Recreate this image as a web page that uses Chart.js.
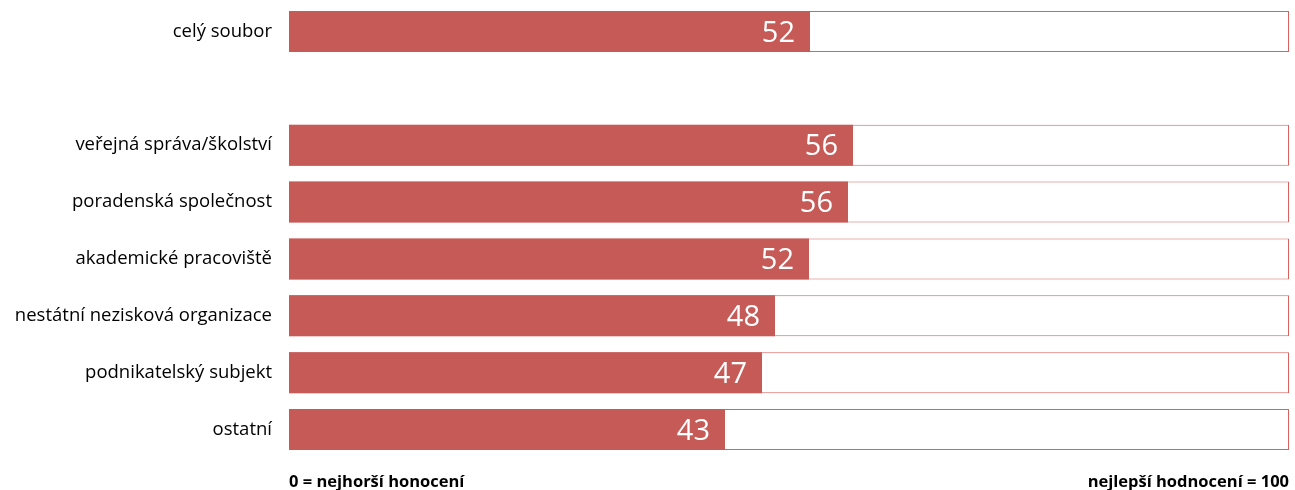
<!DOCTYPE html>
<html>
<head>
<meta charset="utf-8">
<script src="https://cdn.jsdelivr.net/npm/chart.js@4"></script>
<style>
  html, body { margin: 0; padding: 0; background: #fff; }
  #wrap { width: 1295px; height: 490px; }
</style>
</head>
<body>
<div id="wrap"><canvas id="chart"></canvas></div>
<script>
// --- DATA ---
const categories = [
    'celý soubor',
    '',
    'veřejná správa/školství',
    'poradenská společnost',
    'akademické pracoviště',
    'nestátní nezisková organizace',
    'podnikatelský subjekt',
    'ostatní'
];
const scores = [52.1, null, 56.4, 55.9, 52, 48.6, 47.3, 43.6];
const scoreLabels = ['52', '', '56', '56', '52', '48', '47', '43'];
const fullScale = [100, null, 100, 100, 100, 100, 100, 100];
const axisLabels = { 0: '0 = nejhorší honocení', 100: 'nejlepší hodnocení = 100' };

const RED = '#C55A57';

// value labels inside bars, right aligned
const valueLabels = {
    id: 'valueLabels',
    afterDatasetsDraw(chart) {
        const c = chart.ctx;
        const meta = chart.getDatasetMeta(0);
        c.save();
        c.font = '29px "Open Sans", sans-serif';
        c.fillStyle = '#fff';
        c.textAlign = 'right';
        c.textBaseline = 'middle';
        meta.data.forEach((bar, i) => {
            if (scores[i] == null) return;
            c.fillText(scoreLabels[i], bar.x - 15, bar.y + 2);
        });
        c.restore();
    }
};

new Chart(document.getElementById('chart').getContext('2d'), {
    type: 'bar',
    data: {
        labels: categories,
        datasets: [
            {
                data: scores,
                backgroundColor: RED,
                borderWidth: 0,
                grouped: false,
                order: 0,
                categoryPercentage: 1,
                barPercentage: 0.72
            },
            {
                data: fullScale,
                backgroundColor: '#fff',
                borderColor: '#D9625F',
                borderWidth: 1,
                grouped: false,
                order: 1,
                categoryPercentage: 1,
                barPercentage: 0.72
            }
        ]
    },
    options: {
        indexAxis: 'y',
        responsive: true,
        maintainAspectRatio: false,
        animation: false,
        layout: { padding: { top: 3, right: 6, bottom: 0, left: 0 } },
        plugins: { legend: { display: false }, tooltip: { enabled: false } },
        scales: {
            x: {
                min: 0, max: 100,
                grid: { display: false, drawTicks: false },
                border: { display: false },
                afterFit: s => { s.height = 32; s.paddingLeft = 0; s.paddingRight = 0; },
                ticks: {
                    stepSize: 100,
                    align: 'inner',
                    maxRotation: 0,
                    padding: 14,
                    color: '#000',
                    font: { family: '"Open Sans", sans-serif', size: 16.5, weight: 'bold' },
                    callback: v => axisLabels[v] || ''
                }
            },
            y: {
                grid: { display: false, drawTicks: false },
                border: { display: false },
                afterFit: s => { s.width = 289; s.paddingTop = 0; s.paddingBottom = 0; },
                ticks: {
                    padding: 17,
                    color: '#000',
                    font: { family: '"Open Sans", sans-serif', size: 18.5 }
                }
            }
        }
    },
    plugins: [valueLabels]
});
</script>
</body>
</html>
